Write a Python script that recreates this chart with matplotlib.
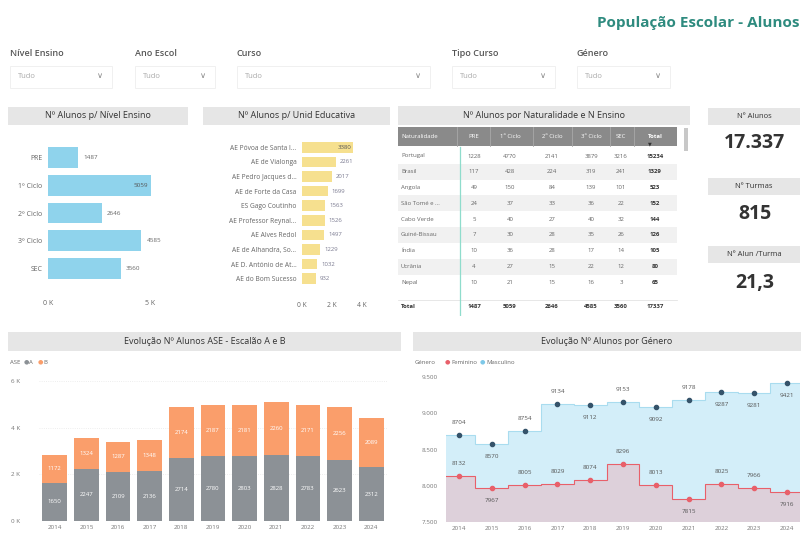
import numpy as np
import matplotlib.pyplot as plt
from matplotlib.patches import Rectangle

plt.rcParams['font.family'] = ['Open Sans', 'DejaVu Sans']

W, H = 804, 533

# ---- dados ----
filtros = ["Nível Ensino", "Ano Escol", "Curso", "Tipo Curso", "Género"]

niveis = ["PRE", "1º Ciclo", "2º Ciclo", "3º Ciclo", "SEC"]
alunos_nivel = [1487, 5059, 2646, 4585, 3560]

unidades = ["AE Póvoa de Santa I...", "AE de Vialonga", "AE Pedro Jacques d...",
            "AE de Forte da Casa", "ES Gago Coutinho", "AE Professor Reynal...",
            "AE Alves Redol", "AE de Alhandra, So...", "AE D. António de At...",
            "AE do Bom Sucesso"]
alunos_unidade = [3380, 2261, 2017, 1699, 1563, 1526, 1497, 1229, 1032, 932]

tabela_cols = ["Naturalidade", "PRE", "1º Ciclo", "2º Ciclo", "3º Ciclo", "SEC", "Total"]
naturalidades = ["Portugal", "Brasil", "Angola", "São Tomé e ...", "Cabo Verde",
                 "Guiné-Bissau", "Índia", "Ucrânia", "Nepal"]
nat_pre = [1228, 117, 49, 24, 5, 7, 10, 4, 10]
nat_c1 = [4770, 428, 150, 37, 40, 30, 36, 27, 21]
nat_c2 = [2141, 224, 84, 33, 27, 28, 28, 15, 15]
nat_c3 = [3879, 319, 139, 36, 40, 35, 17, 22, 16]
nat_sec = [3216, 241, 101, 22, 32, 26, 14, 12, 3]
total_linha = [1487, 5059, 2646, 4585, 3560, 17337]

kpi_titulos = ["Nº Alunos", "Nº Turmas", "Nº Alun /Turma"]
kpi_valores = ["17.337", "815", "21,3"]

anos = ["2014", "2015", "2016", "2017", "2018", "2019", "2020", "2021", "2022", "2023", "2024"]
ase_a = [1650, 2247, 2109, 2136, 2714, 2780, 2803, 2828, 2783, 2623, 2312]
ase_b = [1172, 1324, 1287, 1348, 2174, 2187, 2181, 2260, 2171, 2256, 2089]

masculino = [8704, 8570, 8754, 9134, 9112, 9153, 9092, 9178, 9287, 9281, 9421]
feminino = [8132, 7967, 8005, 8029, 8074, 8296, 8013, 7815, 8025, 7966, 7916]
# posicao dos rotulos (acima / abaixo)
pos_masc = [1, -1, 1, 1, -1, 1, -1, 1, -1, -1, -1]
pos_fem = [1, -1, 1, 1, 1, 1, 1, -1, 1, 1, -1]

fig = plt.figure(figsize=(W / 100, H / 100), dpi=100)
fig.patch.set_facecolor('white')


def fx(x):
    return x / W


def fy(y):
    return 1 - y / H


def ax_px(x0, y0, x1, y1):
    return fig.add_axes([x0 / W, 1 - y1 / H, (x1 - x0) / W, (y1 - y0) / H])


def rect(x0, y0, x1, y1, cor, ec='none', lw=0):
    fig.add_artist(Rectangle((fx(x0), fy(y1)), (x1 - x0) / W, (y1 - y0) / H,
                             transform=fig.transFigure, facecolor=cor,
                             edgecolor=ec, linewidth=lw, zorder=0))


def cabecalho(x0, y0, x1, y1, texto, size=6.5):
    rect(x0, y0, x1, y1, '#e6e6e6')
    fig.text(fx((x0 + x1) / 2), fy((y0 + y1) / 2), texto, ha='center', va='center',
             fontsize=size, color='#333333')


# ---- titulo ----
fig.text(fx(800), fy(23), "População Escolar - Alunos", ha='right', va='center',
         fontsize=11, fontweight='bold', color='#2e8b7f')

# ---- filtros ----
filtro_x = [(10, 112), (135, 215), (237, 430), (452, 555), (577, 670)]
for nome, (x0, x1) in zip(filtros, filtro_x):
    fig.text(fx(x0), fy(53), nome, ha='left', va='center', fontsize=6.5,
             color='#555555', fontweight='semibold')
    rect(x0, 66, x1, 88, 'white', ec='#eeeeee', lw=0.6)
    fig.text(fx(x0 + 8), fy(77), "Tudo", ha='left', va='center', fontsize=5.5, color='#aaaaaa')
    fig.text(fx(x1 - 12), fy(76), "∨", ha='center', va='center', fontsize=6, color='#888888')

# ---- Nº Alunos p/ Nivel Ensino ----
cabecalho(8, 107, 188, 125, "Nº Alunos p/ Nível Ensino")
ax1 = ax_px(48, 140, 156, 286)
ax1.barh(range(len(niveis)), alunos_nivel, height=0.75, color='#8fd3ec')
ax1.invert_yaxis()
ax1.set_xlim(0, 5300)
ax1.set_xticks([0, 5000])
ax1.set_xticklabels(['0 K', '5 K'])
ax1.set_yticks(range(len(niveis)))
ax1.set_yticklabels(niveis)
ax1.tick_params(axis='both', length=0, labelsize=5, colors='#666666')
ax1.tick_params(axis='x', pad=10)
ax1.tick_params(axis='y', pad=4)
for s in ax1.spines.values():
    s.set_visible(False)
for i, v in enumerate(alunos_nivel):
    if v > 4800:
        ax1.text(v - 150, i, str(v), ha='right', va='center', fontsize=4.5, color='#555555')
    else:
        ax1.text(v + 250, i, str(v), ha='left', va='center', fontsize=4.5, color='#666666')

# ---- Nº Alunos p/ Unid Educativa ----
cabecalho(203, 107, 390, 125, "Nº Alunos p/ Unid Educativa")
ax2 = ax_px(302, 135, 367, 291)
ax2.barh(range(len(unidades)), alunos_unidade, height=0.72, color='#f6e08f')
ax2.invert_yaxis()
ax2.set_xlim(0, 4330)
ax2.set_xticks([0, 2000, 4000])
ax2.set_xticklabels(['0 K', '2 K', '4 K'])
ax2.set_yticks(range(len(unidades)))
ax2.set_yticklabels(unidades)
ax2.tick_params(axis='both', length=0, labelsize=4.8, colors='#666666')
ax2.tick_params(axis='x', pad=8)
ax2.tick_params(axis='y', pad=4)
for s in ax2.spines.values():
    s.set_visible(False)
for i, v in enumerate(alunos_unidade):
    if v > 3000:
        ax2.text(v - 100, i, str(v), ha='right', va='center', fontsize=4.3, color='#555555')
    else:
        ax2.text(v + 250, i, str(v), ha='left', va='center', fontsize=4.3, color='#7a7a90')

# ---- tabela Naturalidade ----
cabecalho(398, 106, 690, 125, "Nº Alunos por Naturalidade e N Ensino")
ax3 = ax_px(398, 126, 692, 316)
ax3.set_xlim(398, 692)
ax3.set_ylim(316, 126)
ax3.axis('off')
limites = [398, 457, 490, 533, 572, 610, 634, 677]
ax3.add_patch(Rectangle((398, 127), 279, 19, facecolor='#8a8a8a', edgecolor='none'))
for xb in limites[1:-1]:
    ax3.plot([xb, xb], [127, 146], color='#a8a8a8', lw=0.6)
centros = [474, 510, 552, 591, 621, 655]
ax3.text(401, 136.5, tabela_cols[0], ha='left', va='center', fontsize=4.3, color='white')
for c, nome in zip(centros, tabela_cols[1:]):
    ax3.text(c, 136.5, nome, ha='center', va='center', fontsize=4.3, color='white',
             fontweight='bold' if nome == 'Total' else 'normal')
ax3.text(650, 143.5, "▼", ha='center', va='center', fontsize=3.5, color='#333333')
# scroll bar
ax3.add_patch(Rectangle((684, 128), 4, 23, facecolor='#c8c8c8', edgecolor='none'))

y0 = 156
passo = 15.8
for i, nat in enumerate(naturalidades):
    y = y0 + i * passo
    if i % 2 == 1:
        ax3.add_patch(Rectangle((398, y - passo / 2), 279, passo, facecolor='#f1f1f1',
                                edgecolor='none', zorder=0))
    vals = [nat_pre[i], nat_c1[i], nat_c2[i], nat_c3[i], nat_sec[i]]
    vals.append(sum(vals))
    ax3.text(401, y, nat, ha='left', va='center', fontsize=4.3, color='#666666')
    for j, (c, v) in enumerate(zip(centros, vals)):
        ax3.text(c, y, str(v), ha='center', va='center', fontsize=4.3,
                 color='#333333' if j == 5 else '#666666',
                 fontweight='bold' if j == 5 else 'normal')
yt = 307
ax3.plot([398, 677], [yt - 7, yt - 7], color='#dddddd', lw=0.5)
ax3.text(401, yt, "Total", ha='left', va='center', fontsize=4.3, color='#333333', fontweight='bold')
for c, v in zip(centros, total_linha):
    ax3.text(c, yt, str(v), ha='center', va='center', fontsize=4.3, color='#333333',
             fontweight='bold')
ax3.plot([460, 460], [147, 316], color='#8fdccc', lw=0.9)

# ---- KPIs ----
kpi_y = [(108, 125, 143), (178, 195, 214), (246, 263, 283)]
for tit, val, (ya, yb, yv) in zip(kpi_titulos, kpi_valores, kpi_y):
    cabecalho(708, ya, 800, yb, tit, size=5.5)
    fig.text(fx(755), fy(yv), val, ha='center', va='center', fontsize=14,
             fontweight='bold', color='#333333')

# ---- Evolucao ASE ----
cabecalho(8, 332, 401, 351, "Evolução Nº Alunos ASE - Escalão A e B")
fig.text(fx(10), fy(362), "ASE", fontsize=4.3, color='#666666', va='center')
fig.text(fx(24), fy(362), "●", fontsize=4.5, color='#8c9196', va='center')
fig.text(fx(29), fy(362), "A", fontsize=4.3, color='#666666', va='center')
fig.text(fx(38), fy(362), "●", fontsize=4.5, color='#fa9e6b', va='center')
fig.text(fx(43), fy(362), "B", fontsize=4.3, color='#666666', va='center')

ax5 = ax_px(39, 381, 387, 521)
xs = np.arange(len(anos))
ax5.bar(xs, ase_a, width=0.78, color='#8c9196', zorder=2)
ax5.bar(xs, ase_b, bottom=ase_a, width=0.78, color='#fa9e6b', zorder=2)
ax5.set_xlim(-0.5, len(anos) - 0.5)
ax5.set_ylim(0, 6000)
ax5.set_yticks([0, 2000, 4000, 6000])
ax5.set_yticklabels(['0 K', '2 K', '4 K', '6 K'])
ax5.set_xticks(xs)
ax5.set_xticklabels(anos)
ax5.tick_params(axis='both', length=0, labelsize=4.5, colors='#777777')
ax5.tick_params(axis='x', pad=3)
ax5.tick_params(axis='y', pad=20)
for lab in ax5.get_yticklabels():
    lab.set_ha('left')
ax5.grid(axis='y', color='#e8e8e8', linestyle=':', lw=0.6, zorder=0)
for s in ax5.spines.values():
    s.set_visible(False)
for i in xs:
    ax5.text(i, ase_a[i] / 2, str(ase_a[i]), ha='center', va='center', fontsize=4.3, color='white')
    ax5.text(i, ase_a[i] + ase_b[i] / 2, str(ase_b[i]), ha='center', va='center',
             fontsize=4.3, color='white')

# ---- Evolucao por Genero ----
cabecalho(413, 332, 801, 351, "Evolução Nº Alunos por Género")
fig.text(fx(415), fy(362), "Género", fontsize=4.3, color='#666666', va='center')
fig.text(fx(445), fy(362), "●", fontsize=4.5, color='#e8606a', va='center')
fig.text(fx(451), fy(362), "Feminino", fontsize=4.3, color='#666666', va='center')
fig.text(fx(480), fy(362), "●", fontsize=4.5, color='#7ec8e8', va='center')
fig.text(fx(486), fy(362), "Masculino", fontsize=4.3, color='#666666', va='center')

ax6 = ax_px(446, 377, 800, 522)
xg = np.arange(len(anos))
bordas = np.arange(len(anos) + 1) - 0.5
ax6.stairs(masculino, bordas, baseline=7500, fill=True, color='#d3eef9', zorder=1)
ax6.stairs(feminino, bordas, baseline=7500, fill=True, color='#ddd0da', zorder=2)
ax6.stairs(masculino, bordas, baseline=None, color='#a9dcef', lw=0.8, zorder=3)
ax6.stairs(feminino, bordas, baseline=None, color='#e8606a', lw=0.8, zorder=3)
ax6.scatter(xg, masculino, s=9, color='#35536a', zorder=4)
ax6.scatter(xg, feminino, s=9, color='#e8606a', zorder=4)
ax6.set_xlim(-0.4, len(anos) - 0.6)
ax6.set_ylim(7500, 9500)
ax6.set_yticks([7500, 8000, 8500, 9000, 9500])
ax6.set_yticklabels(['7.500', '8.000', '8.500', '9.000', '9.500'])
ax6.set_xticks(xg)
ax6.set_xticklabels(anos)
ax6.tick_params(axis='both', length=0, labelsize=4.5, colors='#777777')
ax6.tick_params(axis='x', pad=3)
ax6.tick_params(axis='y', pad=6)
for s in ax6.spines.values():
    s.set_visible(False)
for i in xg:
    ax6.annotate(str(masculino[i]), (i, masculino[i]), xytext=(0, 9 * pos_masc[i]),
                 textcoords='offset points', ha='center', va='center', fontsize=4.5,
                 color='#555555', zorder=5)
    ax6.annotate(str(feminino[i]), (i, feminino[i]), xytext=(0, 9 * pos_fem[i]),
                 textcoords='offset points', ha='center', va='center', fontsize=4.5,
                 color='#555555', zorder=5)

fig.savefig("out.png", dpi=100)
